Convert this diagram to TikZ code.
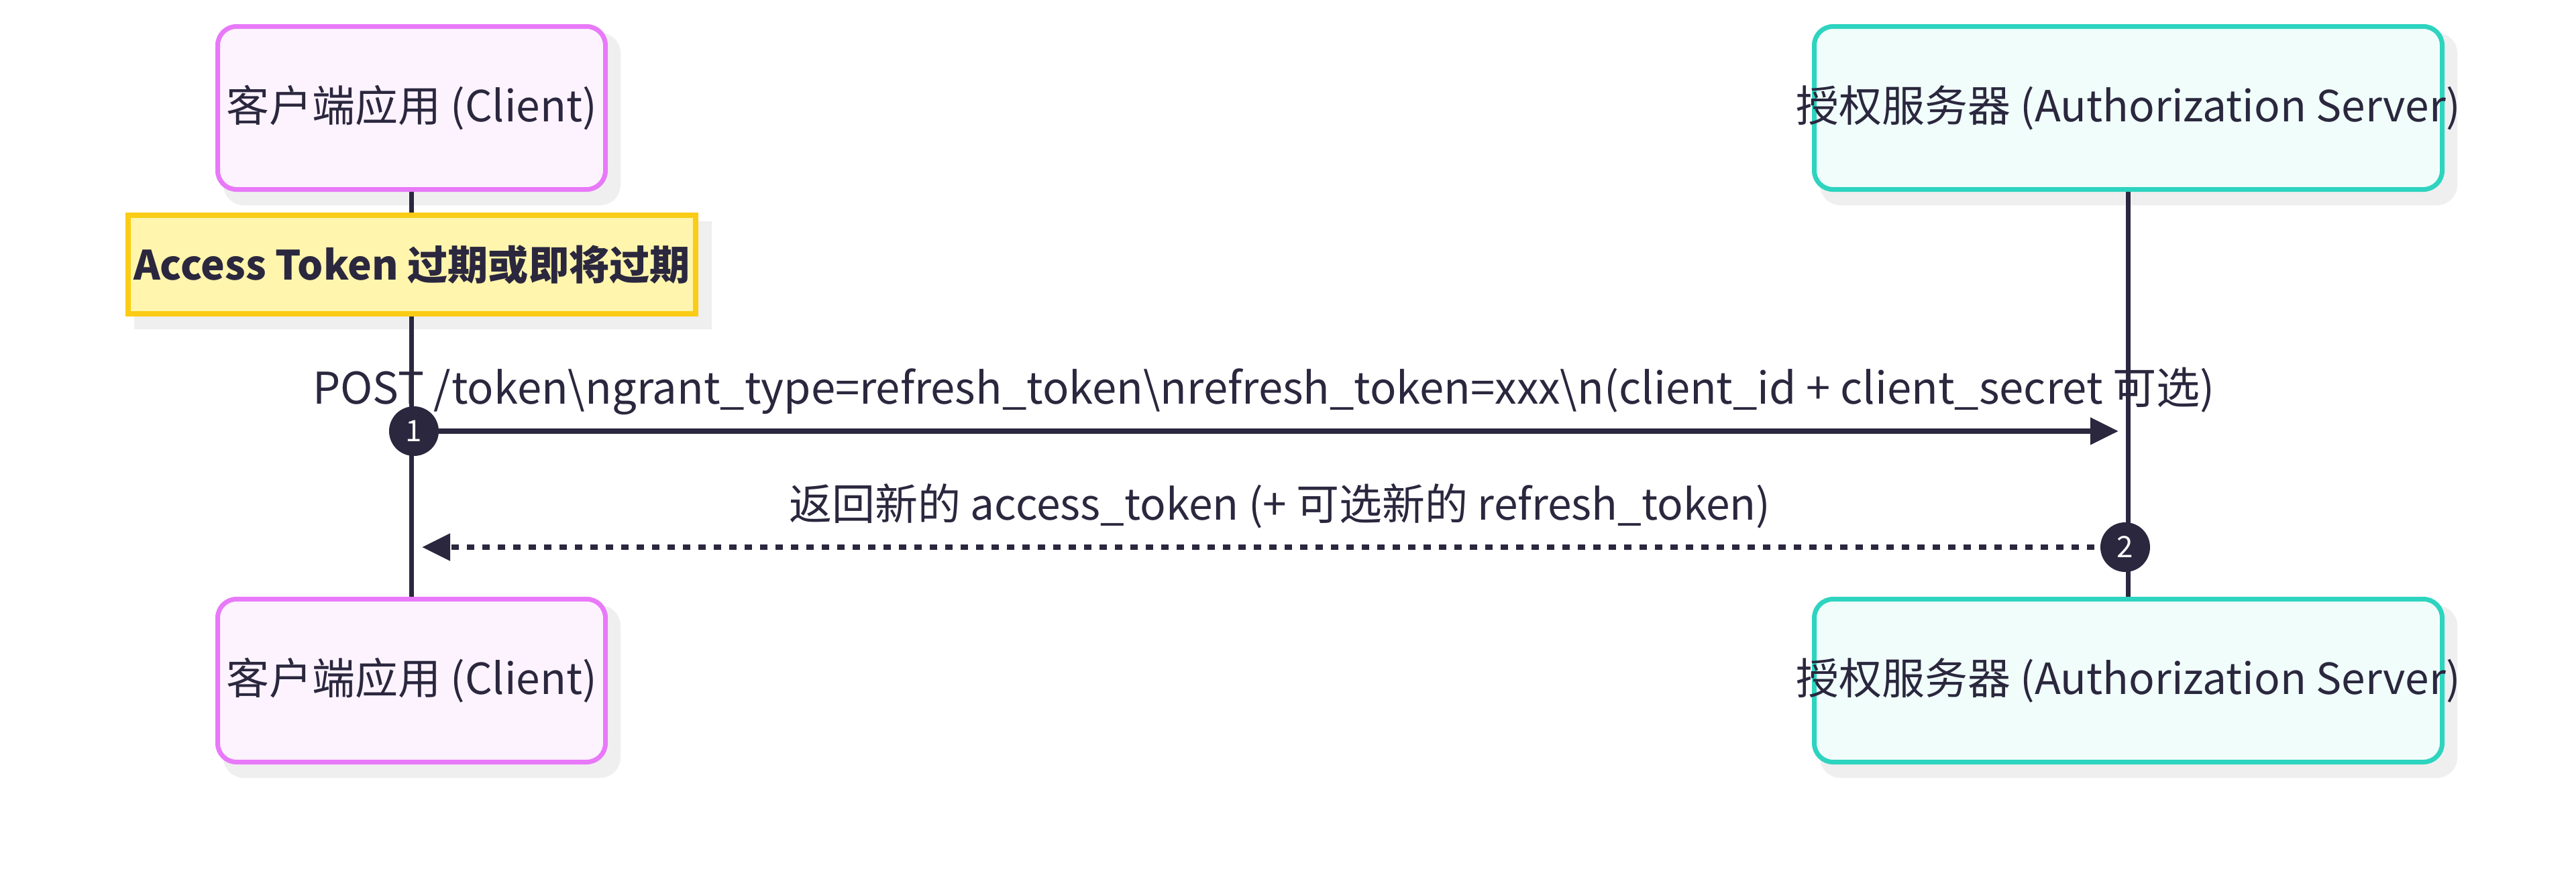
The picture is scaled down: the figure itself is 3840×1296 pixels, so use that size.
\documentclass[tikz,border=0pt]{standalone}
\usepackage{fontspec}
\setmainfont{Noto Sans CJK SC}
\usetikzlibrary{arrows.meta,backgrounds}
\definecolor{ink}{HTML}{2A273E}
\definecolor{cfill}{HTML}{FDF3FE}
\definecolor{cline}{HTML}{E879F9}
\definecolor{sfill}{HTML}{F0FDFA}
\definecolor{sline}{HTML}{2DD4BF}
\definecolor{nfill}{HTML}{FFF5AD}
\definecolor{nline}{HTML}{FACC15}
\definecolor{shade}{HTML}{EFEFEF}
\tikzset{
  actorbox/.style={draw, rounded corners=14pt, line width=3.5pt, minimum height=121.5pt, inner sep=0pt},
  clientbox/.style={actorbox, fill=cfill, draw=cline, minimum width=289pt},
  serverbox/.style={actorbox, fill=sfill, draw=sline, minimum width=468pt},
  actortext/.style={inner sep=0pt, text=ink, font=\fontsize{32}{38}\selectfont},
  notebox/.style={draw=nline, fill=nfill, line width=3.8pt, minimum width=423pt, minimum height=73.5pt, inner sep=0pt},
  notetext/.style={inner sep=0pt, text=ink, font=\fontsize{30.1}{36}\selectfont\bfseries},
  roundshadow/.style={fill=shade, rounded corners=15pt},
  flatshadow/.style={fill=shade},
  lifeline/.style={draw=ink, line width=3.6pt},
  msglabel/.style={anchor=base, text=ink, inner sep=0pt, font=\fontsize{32}{38}\selectfont},
  solidmsg/.style={draw=ink, line width=4pt, -{Triangle[length=21pt,width=19.5pt]}},
  dottedmsg/.style={draw=ink, line width=3.9pt, dash pattern=on 5.5pt off 6pt, -{Triangle[length=21pt,width=19.5pt]}},
  badge/.style={circle, fill=ink, minimum size=37pt, inner sep=0pt, text=white, font=\fontsize{22}{24}\selectfont},
}
\begin{document}
\begin{tikzpicture}[x=0.5pt,y=-0.5pt]
\useasboundingbox (0,0) rectangle (3840,1296);

% participants
\node[clientbox] (ctop) at (613.5,161) {};
\node[actortext] (ctopt) at (ctop.center) {客户端应用 (Client)};
\node[serverbox] (stop) at (3172.5,161) {};
\node[actortext] (stopt) at (stop.center) {授权服务器 (Authorization Server)};
\node[clientbox] (cbot) at (613.5,1015) {};
\node[actortext] (cbott) at (cbot.center) {客户端应用 (Client)};
\node[serverbox] (sbot) at (3172.5,1015) {};
\node[actortext] (sbott) at (sbot.center) {授权服务器 (Authorization Server)};

% note
\node[notebox] (note) at (614,394.5) {};
\node[notetext] (notet) at (note.center) {Access Token 过期或即将过期};

% background, shadows and lifelines
\begin{scope}[on background layer]
\fill[white] (0,0) rectangle (3840,1296);
\foreach \n in {ctop,stop,cbot,sbot}{
  \fill[roundshadow] ([shift={(12,13)}]\n.north west) rectangle ([shift={(19,20)}]\n.south east);
}
\fill[flatshadow] ([shift={(13,13)}]note.north west) rectangle ([shift={(20,19)}]note.south east);
\draw[lifeline] (ctop.south) -- (cbot.north);
\draw[lifeline] (stop.south) -- (sbot.north);
\end{scope}

% message 1
\node[msglabel, font=\fontsize{32.6}{38}\selectfont] (l1) at (1884,602) {POST /token\textbackslash ngrant\_type=refresh\_token\textbackslash nrefresh\_token=xxx\textbackslash n(client\_id + client\_secret 可选)};
\coordinate (m1start) at (617,643);
\coordinate (m1end) at (3158,643);
\draw[solidmsg] (m1start) -- (m1end);
\node[badge] (b1) at (m1start) {1};

% message 2
\coordinate (m2start) at (3168,816);
\coordinate (m2end) at (629,816);
\draw[dottedmsg] (m2start) -- (m2end);
\node[badge] (b2) at (m2start) {2};
\node[msglabel] (l2) at (1908,775) {返回新的 access\_token (+ 可选新的 refresh\_token)};
\end{tikzpicture}
\end{document}
